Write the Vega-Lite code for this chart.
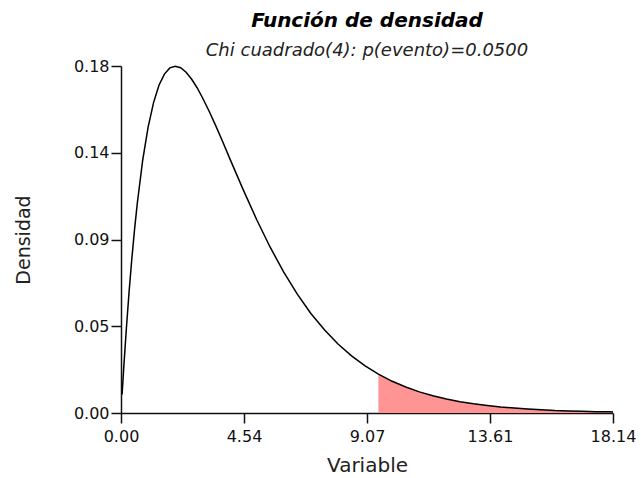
{
  "$schema": "https://vega.github.io/schema/vega-lite/v6.json",
  "width": 492,
  "height": 347,
  "autosize": {"type": "none"},
  "padding": {"left": 121, "top": 66, "right": 28, "bottom": 65},
  "background": "white",
  "config": {
    "view": {"stroke": null},
    "font": "DejaVu Sans"
  },
  "title": {
    "text": "Función de densidad",
    "subtitle": "Chi cuadrado(4): p(evento)=0.0500",
    "anchor": "middle",
    "font": "DejaVu Sans",
    "fontSize": 20,
    "fontWeight": "bold",
    "fontStyle": "italic",
    "color": "#000000",
    "subtitleFont": "DejaVu Sans",
    "subtitleFontSize": 18,
    "subtitleFontStyle": "italic",
    "subtitleColor": "#222222",
    "subtitlePadding": 11,
    "offset": -2
  },
  "datasets": {
    "curve": [
      {"x": 0.04, "d": 0.0098}, {"x": 0.1, "d": 0.0238}, {"x": 0.2, "d": 0.0452}, {"x": 0.3, "d": 0.0646},
      {"x": 0.4, "d": 0.0819}, {"x": 0.5, "d": 0.0974}, {"x": 0.6, "d": 0.1111}, {"x": 0.8, "d": 0.1341},
      {"x": 1.0, "d": 0.1516}, {"x": 1.2, "d": 0.1646}, {"x": 1.4, "d": 0.1738}, {"x": 1.6, "d": 0.1797},
      {"x": 1.8, "d": 0.183}, {"x": 2.0, "d": 0.1839}, {"x": 2.2, "d": 0.1831}, {"x": 2.4, "d": 0.1807},
      {"x": 2.6, "d": 0.1771}, {"x": 2.8, "d": 0.1726}, {"x": 3.0, "d": 0.1673}, {"x": 3.25, "d": 0.16},
      {"x": 3.5, "d": 0.1521}, {"x": 3.75, "d": 0.1438}, {"x": 4.0, "d": 0.1353}, {"x": 4.5, "d": 0.1186},
      {"x": 5.0, "d": 0.1026}, {"x": 5.5, "d": 0.0879}, {"x": 6.0, "d": 0.0747}, {"x": 6.5, "d": 0.063},
      {"x": 7.0, "d": 0.0528}, {"x": 7.5, "d": 0.0441}, {"x": 8.0, "d": 0.0366}, {"x": 8.5, "d": 0.0303},
      {"x": 9.0, "d": 0.025}, {"x": 9.49, "d": 0.0206}, {"x": 10.0, "d": 0.0168}, {"x": 10.5, "d": 0.0138},
      {"x": 11.0, "d": 0.0112}, {"x": 11.5, "d": 0.0092}, {"x": 12.0, "d": 0.0074}, {"x": 12.5, "d": 0.006},
      {"x": 13.0, "d": 0.0049}, {"x": 13.5, "d": 0.004}, {"x": 14.0, "d": 0.0032}, {"x": 14.5, "d": 0.0026},
      {"x": 15.0, "d": 0.0021}, {"x": 15.5, "d": 0.0017}, {"x": 16.0, "d": 0.0013}, {"x": 16.5, "d": 0.0011},
      {"x": 17.0, "d": 0.0009}, {"x": 17.5, "d": 0.0007}, {"x": 18.0, "d": 0.0006}, {"x": 18.14, "d": 0.0005}
    ],
    "tail": [
      {"x": 9.49, "d": 0.0206}, {"x": 10.0, "d": 0.0168}, {"x": 10.5, "d": 0.0138},
      {"x": 11.0, "d": 0.0112}, {"x": 11.5, "d": 0.0092}, {"x": 12.0, "d": 0.0074}, {"x": 12.5, "d": 0.006},
      {"x": 13.0, "d": 0.0049}, {"x": 13.5, "d": 0.004}, {"x": 14.0, "d": 0.0032}, {"x": 14.5, "d": 0.0026},
      {"x": 15.0, "d": 0.0021}, {"x": 15.5, "d": 0.0017}, {"x": 16.0, "d": 0.0013}, {"x": 16.5, "d": 0.0011},
      {"x": 17.0, "d": 0.0009}, {"x": 17.5, "d": 0.0007}, {"x": 18.0, "d": 0.0006}, {"x": 18.14, "d": 0.0005}
    ]
  },
  "encoding": {
    "x": {
      "field": "x", "type": "quantitative",
      "scale": {"domain": [0, 18.14], "nice": false, "zero": false},
      "axis": {
        "title": "Variable",
        "values": [0, 4.535, 9.07, 13.605, 18.14],
        "labelExpr": "datum.index == 0 ? '0.00' : datum.index == 0.25 ? '4.54' : datum.index == 0.5 ? '9.07' : datum.index == 0.75 ? '13.61' : '18.14'",
        "grid": false,
        "domainColor": "#111111", "domainWidth": 1.5,
        "tickColor": "#111111", "tickSize": 10, "tickWidth": 1.5,
        "labelColor": "#111111", "labelFontSize": 16, "labelFont": "DejaVu Sans", "labelPadding": 5,
        "labelFlush": false, "labelOverlap": false,
        "titleColor": "#222222", "titleFontSize": 20, "titleFont": "DejaVu Sans", "titleFontWeight": "normal",
        "titlePadding": 11
      }
    },
    "y": {
      "field": "d", "type": "quantitative",
      "scale": {"domain": [0, 0.184], "nice": false, "zero": true},
      "axis": {
        "title": "Densidad",
        "values": [0, 0.046, 0.092, 0.138, 0.184],
        "format": ".2f",
        "grid": false,
        "domainColor": "#111111", "domainWidth": 1.5,
        "tickColor": "#111111", "tickSize": 10, "tickWidth": 1.5,
        "labelColor": "#111111", "labelFontSize": 16, "labelFont": "DejaVu Sans", "labelPadding": 2,
        "labelFlush": false, "labelOverlap": false,
        "titleColor": "#222222", "titleFontSize": 19, "titleFont": "DejaVu Sans", "titleFontWeight": "normal",
        "titlePadding": 40
      }
    }
  },
  "layer": [
    {
      "data": {"name": "tail"},
      "mark": {"type": "area", "color": "#ff9494", "opacity": 1}
    },
    {
      "data": {"name": "curve"},
      "mark": {"type": "line", "color": "#000000", "strokeWidth": 1.5}
    }
  ]
}
